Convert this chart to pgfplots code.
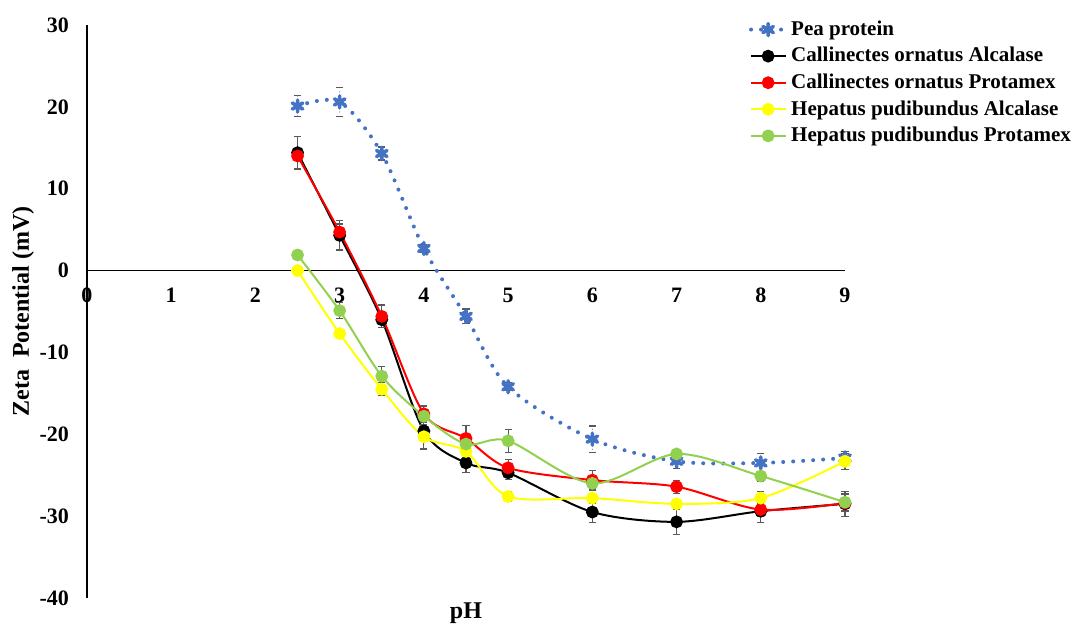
\documentclass[border=0pt]{standalone}
\usepackage{fontspec}
\setmainfont{Liberation Serif}
\usepackage{pgfplots}
\usepackage{pgfplotstable}
\pgfplotsset{compat=1.18}
\definecolor{peablue}{HTML}{4472C4}
\definecolor{hpgreen}{HTML}{92D050}
\definecolor{hpyellow}{HTML}{FFFF00}
\definecolor{errgray}{HTML}{595959}

% x  y  err
\pgfplotstableread{
x   y      e
2.5 20.1   1.3
3   20.6   1.8
3.5 14.3   0.8
4   2.7    0.5
4.5 -5.6   0.9
5   -14.2  0.5
6   -20.6  1.6
7   -23.3  0.9
8   -23.5  1.2
9   -22.9  0.8
}\pea
\pgfplotstableread{
x   y      e
2.5 14.4   2.0
3   4.3    1.8
3.5 -6.0   1.0
4   -19.6  2.2
4.5 -23.5  1.2
5   -24.7  0.8
6   -29.5  1.3
7   -30.7  1.5
8   -29.4  1.4
9   -28.5  1.5
}\coalc
\pgfplotstableread{
x   y      e
2.5 14.0   0.5
3   4.7    1.0
3.5 -5.6   1.4
4   -17.5  1.0
4.5 -20.5  1.6
5   -24.1  1.0
6   -25.6  1.2
7   -26.4  0.8
8   -29.2  0.8
9   -28.4  1.0
}\coprot
\pgfplotstableread{
x   y      e
2.5 0.0    0.3
3   -7.7   0.4
3.5 -14.5  0.8
4   -20.3  1.5
4.5 -22.1  0.8
5   -27.6  0.6
6   -27.8  0.6
7   -28.5  0.5
8   -27.8  0.8
9   -23.3  1.0
}\hpalc
\pgfplotstableread{
x   y      e
2.5 1.9    0.3
3   -4.9   1.0
3.5 -12.9  1.2
4   -17.8  1.2
4.5 -21.2  1.0
5   -20.8  1.4
6   -26.0  0.6
7   -22.4  0.5
8   -25.1  0.6
9   -28.3  1.0
}\hpprot

\begin{document}
\begin{tikzpicture}
\begin{axis}[
    scale only axis,
    width=379pt, height=286.5pt,
    xmin=0, xmax=9, ymin=-40, ymax=30,
    axis x line=middle, axis y line=left,
    axis line style={-, line width=0.8pt},
    xtick={0,...,9}, ytick={-40,-30,...,30},
    major tick length=0pt,
    hide obscured x ticks=false,
    /pgf/number format/assume math mode=true,
    tick label style={font=\bfseries\fontsize{11}{12}\selectfont},
    xticklabel style={yshift=-5pt},
    yticklabel style={xshift=-5.5pt},
    xlabel={pH}, ylabel={Zeta\ \ Potential (mV)},
    every axis x label/.style={at={(rel axis cs:0.5,0)}, anchor=north, inner sep=0pt, yshift=-2pt},
    every axis y label/.style={at={(ticklabel cs:0.5)}, rotate=90, anchor=near ticklabel},
    ylabel shift=-4pt,
    label style={font=\bfseries\fontsize{12}{14}\selectfont},
    legend style={at={(0.865,1.022)}, anchor=north west, draw=none, fill=none,
                  font=\bfseries\fontsize{10.5}{12}\selectfont, row sep=0.5pt},
    legend cell align=left,
    clip=false,
    every axis plot/.append style={smooth, tension=0.5,
        error bars/y dir=both, error bars/y explicit,
        error bars/error bar style={errgray, line width=0.6pt},
        error bars/error mark options={rotate=90, mark size=1.8pt, errgray, line width=0.6pt}},
]

\addplot[peablue, line width=2pt, dash pattern=on 0pt off 5pt, line cap=round,
    mark=asterisk, mark size=3pt, mark options={solid, line width=1.8pt}]
  table[x=x, y=y, y error=e] {\pea};
\addlegendentry{Pea protein}

\addplot[black, line width=1pt, mark=*, mark size=2.7pt]
  table[x=x, y=y, y error=e] {\coalc};
\addlegendentry{Callinectes ornatus Alcalase}

\addplot[red, line width=1pt, mark=*, mark size=2.7pt]
  table[x=x, y=y, y error=e] {\coprot};
\addlegendentry{Callinectes ornatus Protamex}

\addplot[hpyellow, line width=1pt, mark=*, mark size=2.7pt]
  table[x=x, y=y, y error=e] {\hpalc};
\addlegendentry{Hepatus pudibundus Alcalase}

\addplot[hpgreen, line width=1pt, mark=*, mark size=2.7pt]
  table[x=x, y=y, y error=e] {\hpprot};
\addlegendentry{Hepatus pudibundus Protamex}

\coordinate (O) at (rel axis cs:0,0);
\coordinate (T) at (rel axis cs:1,1);
\end{axis}
\pgfresetboundingbox
\path ([shift={(-43.5pt,-13.5pt)}]O) rectangle ([shift={(118.5pt,12.5pt)}]T);
\end{tikzpicture}
\end{document}
